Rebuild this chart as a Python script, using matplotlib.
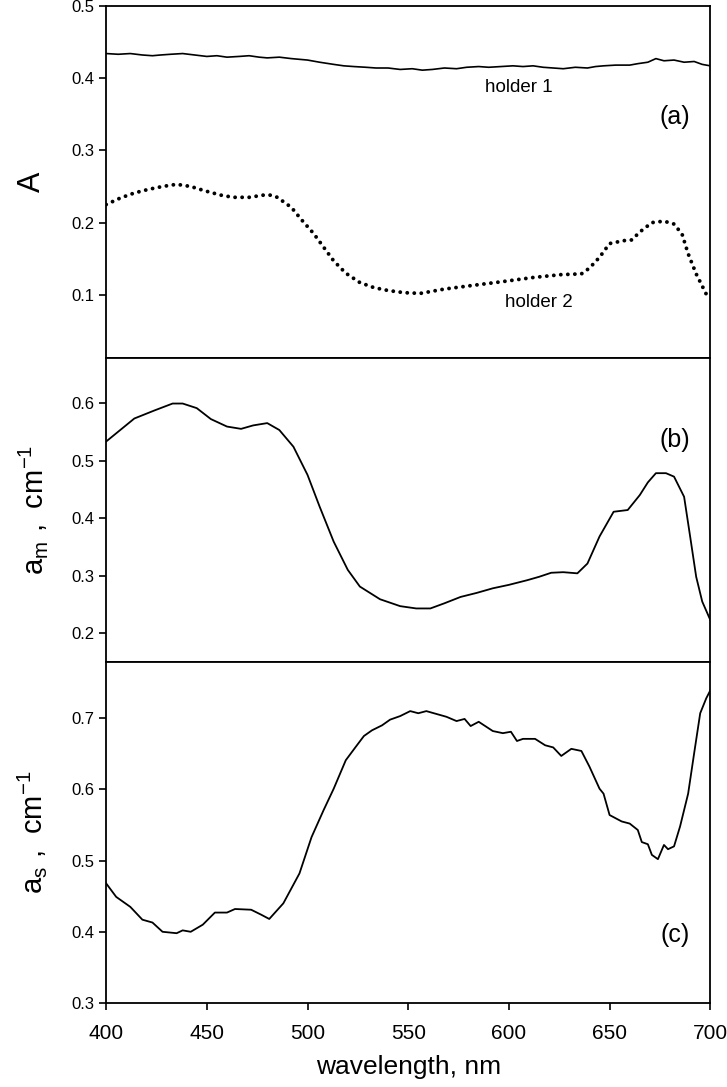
import matplotlib
matplotlib.use('Agg')
import matplotlib.pyplot as plt

plt.rcParams['font.family'] = ['Liberation Sans', 'DejaVu Sans']
plt.rcParams['mathtext.default'] = 'regular'

# panel (a) - holder 1 (solid) and holder 2 (dotted)
wl_h1 = [400, 406, 412, 418, 423, 427, 432, 438, 444, 450, 455, 460, 466, 471, 476, 480,
         486, 492, 500, 506, 513, 518, 523, 529, 534, 540, 546, 552, 557, 562, 568, 574,
         579, 585, 590, 596, 602, 607, 612, 617, 622, 627, 633, 639, 643, 647, 653, 660,
         664, 669, 673, 677, 682, 687, 692, 696, 700]
a_h1 = [0.434, 0.433, 0.434, 0.432, 0.431, 0.432, 0.433, 0.434, 0.432, 0.430, 0.431, 0.429,
        0.430, 0.431, 0.429, 0.428, 0.429, 0.427, 0.425, 0.422, 0.419, 0.417, 0.416, 0.415,
        0.414, 0.414, 0.412, 0.413, 0.411, 0.412, 0.414, 0.413, 0.415, 0.416, 0.415, 0.416,
        0.417, 0.416, 0.417, 0.415, 0.414, 0.413, 0.415, 0.414, 0.416, 0.417, 0.418, 0.418,
        0.420, 0.422, 0.427, 0.424, 0.425, 0.422, 0.423, 0.419, 0.417]

wl_h2 = [400, 407, 414, 421, 428, 435, 442, 449, 457, 463, 471, 478, 482, 485, 488, 492,
         497, 503, 508, 513, 519, 526, 533, 540, 548, 556, 568, 579, 596, 612, 626, 636,
         640, 645, 650, 657, 661, 665, 671, 677, 682, 686, 689, 693, 698]
a_h2 = [0.225, 0.234, 0.241, 0.246, 0.250, 0.253, 0.250, 0.244, 0.238, 0.235, 0.235, 0.238,
        0.238, 0.235, 0.229, 0.221, 0.204, 0.185, 0.166, 0.147, 0.130, 0.117, 0.110, 0.106,
        0.103, 0.102, 0.108, 0.112, 0.118, 0.124, 0.128, 0.129, 0.137, 0.152, 0.171, 0.175,
        0.176, 0.187, 0.200, 0.202, 0.198, 0.184, 0.157, 0.129, 0.101]

# panel (b) - a_m
wl_m = [400, 407, 414, 424, 433, 438, 445, 452, 460, 467, 473, 480, 486, 493, 500, 506,
        513, 520, 526, 536, 546, 554, 561, 568, 576, 584, 592, 600, 609, 615, 621, 627,
        634, 639, 645, 652, 659, 665, 669, 673, 678, 682, 687, 690, 693, 696, 700]
a_m = [0.533, 0.553, 0.573, 0.587, 0.599, 0.599, 0.591, 0.572, 0.559, 0.555, 0.561, 0.565,
       0.553, 0.524, 0.475, 0.420, 0.359, 0.310, 0.281, 0.259, 0.247, 0.243, 0.243, 0.252,
       0.263, 0.270, 0.278, 0.284, 0.292, 0.298, 0.305, 0.306, 0.304, 0.321, 0.368, 0.411,
       0.414, 0.440, 0.462, 0.478, 0.478, 0.472, 0.437, 0.368, 0.298, 0.255, 0.223]

# panel (c) - a_s
wl_s = [400, 405, 409, 412, 418, 423, 428, 435, 438, 442, 448, 454, 460, 464, 472, 477,
        481, 488, 496, 502, 508, 513, 519, 524, 528, 532, 537, 541, 546, 551, 555, 559,
        564, 569, 574, 578, 581, 585, 592, 597, 601, 604, 607, 613, 618, 622, 626, 631,
        636, 640, 645, 647, 650, 656, 660, 664, 666, 669, 671, 674, 677, 679, 682, 685,
        689, 692, 695, 698, 700]
a_s = [0.468, 0.449, 0.441, 0.435, 0.417, 0.413, 0.400, 0.398, 0.402, 0.400, 0.410, 0.427,
       0.427, 0.432, 0.431, 0.424, 0.418, 0.440, 0.482, 0.533, 0.571, 0.601, 0.641, 0.660,
       0.675, 0.683, 0.690, 0.698, 0.703, 0.710, 0.707, 0.710, 0.706, 0.702, 0.696, 0.699,
       0.689, 0.695, 0.682, 0.679, 0.681, 0.668, 0.671, 0.671, 0.662, 0.659, 0.647, 0.657,
       0.654, 0.632, 0.601, 0.594, 0.564, 0.555, 0.552, 0.543, 0.526, 0.523, 0.508, 0.502,
       0.522, 0.516, 0.520, 0.548, 0.594, 0.651, 0.707, 0.728, 0.739]

x_ticks = [400, 450, 500, 550, 600, 650, 700]

fig = plt.figure(figsize=(7.27, 10.87), dpi=100)
left, width = 0.146, 0.831
ax1 = fig.add_axes([left, 0.6706, width, 0.3240])
ax2 = fig.add_axes([left, 0.3910, width, 0.2796])
ax3 = fig.add_axes([left, 0.0773, width, 0.3137])

ax1.plot(wl_h1, a_h1, color='black', lw=1.2)
ax1.plot(wl_h2, a_h2, color='black', lw=2.8, linestyle=(0, (0.01, 1.8)),
         dash_capstyle='round')
ax2.plot(wl_m, a_m, color='black', lw=1.3)
ax3.plot(wl_s, a_s, color='black', lw=1.3)

ax1.set_ylim(0.0125, 0.5)
ax1.set_yticks([0.1, 0.2, 0.3, 0.4, 0.5])
ax2.set_ylim(0.15, 0.678)
ax2.set_yticks([0.2, 0.3, 0.4, 0.5, 0.6])
ax3.set_ylim(0.3, 0.779)
ax3.set_yticks([0.3, 0.4, 0.5, 0.6, 0.7])

for ax in (ax1, ax2, ax3):
    ax.set_xlim(400, 700)
    ax.set_xticks(x_ticks)
    ax.tick_params(axis='y', direction='out', length=5, width=1.2, labelsize=12)
    ax.tick_params(axis='x', direction='out', length=5, width=1.2, labelsize=15, pad=10)
    for s in ax.spines.values():
        s.set_linewidth(1.3)
ax1.tick_params(axis='x', bottom=False, labelbottom=False)
ax2.tick_params(axis='x', bottom=False, labelbottom=False)

ax1.set_ylabel('A', fontsize=22)
ax2.set_ylabel(r'$a_m\ ,\ cm^{-1}$', fontsize=21)
ax3.set_ylabel(r'$a_s\ ,\ cm^{-1}$', fontsize=21)
ax1.yaxis.set_label_coords(-0.098, 0.5)
ax2.yaxis.set_label_coords(-0.093, 0.5)
ax3.yaxis.set_label_coords(-0.095, 0.5)
ax3.set_xlabel('wavelength, nm', fontsize=19, labelpad=9)

ax1.text(605, 0.3875, 'holder 1', ha='center', va='center', fontsize=13.5)
ax1.text(615, 0.089, 'holder 2', ha='center', va='center', fontsize=13.5)
ax1.text(0.942, 0.685, '(a)', transform=ax1.transAxes, ha='center', va='center', fontsize=18)
ax2.text(0.942, 0.73, '(b)', transform=ax2.transAxes, ha='center', va='center', fontsize=18)
ax3.text(0.942, 0.2, '(c)', transform=ax3.transAxes, ha='center', va='center', fontsize=18)

fig.savefig('out.png', dpi=100)
